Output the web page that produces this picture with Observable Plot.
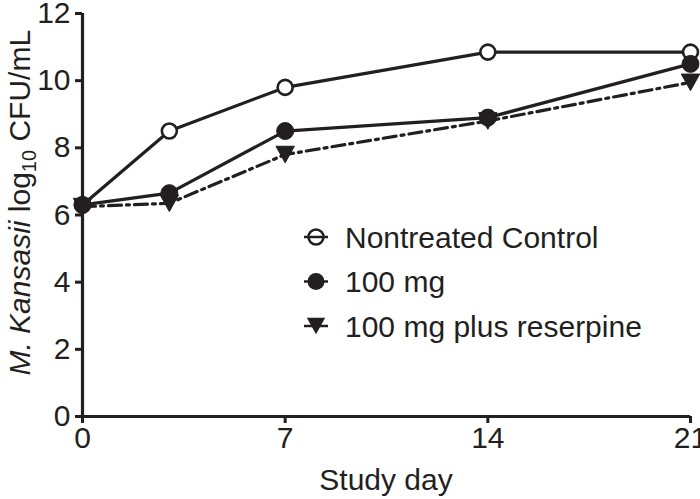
<!DOCTYPE html>
<html>
<head>
<meta charset="utf-8">
<script src="https://cdn.jsdelivr.net/npm/d3@7"></script>
<script src="https://cdn.jsdelivr.net/npm/@observablehq/plot@0.6"></script>
<style>
  html, body { margin: 0; padding: 0; background: #fff; }
  #chart svg { display: block; }
</style>
</head>
<body>
<div id="chart"></div>
<script>
// ---- data ----
const days = [0, 3, 7, 14, 21];
const controlValues = [6.3, 8.5, 9.8, 10.85, 10.85];
const mg100Values = [6.3, 6.65, 8.5, 8.9, 10.5];
const reserpineValues = [6.25, 6.35, 7.8, 8.8, 9.95];
const seriesNames = ["Nontreated Control", "100 mg", "100 mg plus reserpine"];
const xTicks = [0, 7, 14, 21];
const yTicks = [0, 2, 4, 6, 8, 10, 12];
const xLabel = "Study day";

const ink = "#231f20";
const font = "'Liberation Sans', Arial, Helvetica, sans-serif";

const rows = (vals, name) => days.map((d, i) => ({day: d, value: vals[i], series: name}));
const control = rows(controlValues, seriesNames[0]);
const mg100 = rows(mg100Values, seriesNames[1]);
const reserpine = rows(reserpineValues, seriesNames[2]);

const triangleDown = {
  draw(context, size) {
    const s = Math.sqrt(size / 0.75);
    const h = s * 0.9;
    context.moveTo(-s / 2, -h / 2);
    context.lineTo(s / 2, -h / 2);
    context.lineTo(0, h / 2);
    context.closePath();
  }
};

const W = 700, H = 499;
const chart = Plot.plot({
  width: W,
  height: H,
  marginLeft: 82,
  marginRight: 10,
  marginTop: 13,
  marginBottom: 83,
  style: {fontFamily: font, color: ink, background: "#fff", overflow: "visible"},
  x: {domain: [0, 21]},
  y: {domain: [0, 12]},
  marks: [
    Plot.axisY({ticks: yTicks, tickSize: 7, tickPadding: 5, fontSize: 30, strokeWidth: 3, tickFormat: d => String(d), label: null}),
    Plot.axisX({ticks: xTicks, tickSize: 7, tickPadding: 3, fontSize: 30, strokeWidth: 3, tickFormat: d => String(d), label: null}),
    Plot.ruleX([0], {y1: 0, y2: 12, stroke: ink, strokeWidth: 3.2}),
    Plot.ruleY([0], {x1: 0, x2: 21, stroke: ink, strokeWidth: 3.2}),
    Plot.line(reserpine, {x: "day", y: "value", stroke: ink, strokeWidth: 3.2, strokeDasharray: "13,5,3,5"}),
    Plot.line(mg100, {x: "day", y: "value", stroke: ink, strokeWidth: 3.2}),
    Plot.line(control, {x: "day", y: "value", stroke: ink, strokeWidth: 3.2}),
    Plot.dot(control, {x: "day", y: "value", r: 7.5, fill: "#fff", stroke: ink, strokeWidth: 2.6}),
    Plot.dot(reserpine, {x: "day", y: "value", symbol: triangleDown, r: 9, fill: ink, stroke: ink, strokeWidth: 1}),
    Plot.dot(mg100, {x: "day", y: "value", r: 8.5, fill: ink, stroke: ink, strokeWidth: 1})
  ]
});

document.getElementById("chart").appendChild(chart);

const svg = d3.select(chart);
const xs = chart.scale("x"), ys = chart.scale("y");

// x label
svg.append("text")
  .attr("x", xs.apply(10.5))
  .attr("y", 490)
  .attr("text-anchor", "middle")
  .attr("font-size", 30)
  .attr("font-family", font)
  .attr("fill", ink)
  .text(xLabel);

// y label with italic species name and subscript
const yl = svg.append("text")
  .attr("transform", `translate(30,${ys.apply(6.35)}) rotate(-90)`)
  .attr("text-anchor", "middle")
  .attr("font-size", 30)
  .attr("font-family", font)
  .attr("fill", ink);
yl.append("tspan").attr("font-style", "italic").text("M. Kansasii");
yl.append("tspan").text(" log");
yl.append("tspan").attr("font-size", 20).attr("dy", 6).text("10");
yl.append("tspan").attr("dy", -6).text(" CFU/mL");

// legend
const legendItems = [
  {name: seriesNames[0], kind: "open"},
  {name: seriesNames[1], kind: "filled"},
  {name: seriesNames[2], kind: "tri"}
];
const lg = svg.append("g").attr("transform", "translate(316,237)");
legendItems.forEach((it, i) => {
  const g = lg.append("g").attr("transform", `translate(0,${i * 44.5})`);
  g.append("line").attr("x1", -12).attr("x2", 12).attr("y1", 0).attr("y2", 0)
    .attr("stroke", ink).attr("stroke-width", 2.5);
  if (it.kind === "open") {
    g.append("circle").attr("r", 7.5).attr("fill", "#fff").attr("stroke", ink).attr("stroke-width", 2.5);
    g.append("line").attr("x1", -7).attr("x2", 7).attr("stroke", ink).attr("stroke-width", 2.5);
  } else if (it.kind === "filled") {
    g.append("circle").attr("r", 8.5).attr("fill", ink);
  } else {
    g.append("path").attr("d", d3.symbol(triangleDown, Math.PI * 81)()).attr("fill", ink);
  }
  g.append("text").attr("x", 29).attr("y", 0).attr("dy", "0.35em")
    .attr("text-anchor", "start")
    .attr("font-size", 30).attr("font-family", font).attr("fill", ink)
    .text(it.name);
});
</script>
</body>
</html>
